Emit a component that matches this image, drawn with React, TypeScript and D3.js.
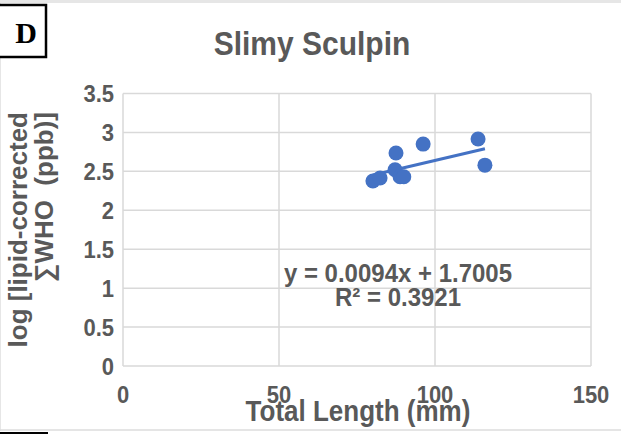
import React from "react";
import * as d3 from "d3";

const lengthMm = [80.1, 82.4, 87.2, 87.5, 88.8, 90.0, 96.2, 113.8, 116.0];
const logWho = [2.376, 2.415, 2.52, 2.736, 2.43, 2.43, 2.85, 2.915, 2.58];
const xTicks = [0, 50, 100, 150];
const yTicks = [0, 0.5, 1, 1.5, 2, 2.5, 3, 3.5];
const slope = 0.0094;
const intercept = 1.7005;
const rSquared = "0.3921";
const title = "Slimy Sculpin";
const xTitle = "Total Length (mm)";
const yTitleLines = ["log [lipid-corrected", "\u2211WHO  (ppb)]"];
const panelLabel = "D";

const W = 621;
const H = 434;
const FONT = "'Liberation Sans', Arial, sans-serif";
const GREY = "#595959";
const BLUE = "#4472C4";
const GRID = "#d9d9d9";
const SY = 1.1; // slight vertical stretch of the reference's lettering

export default function App() {
  const x = d3.scaleLinear().domain([0, 150]).range([123, 591]);
  const y = d3.scaleLinear().domain([0, 3.5]).range([366, 93.5]);
  const xMin = d3.min(lengthMm) as number;
  const xMax = d3.max(lengthMm) as number;
  const trend = d3
    .line<number>()
    .x((d) => x(d))
    .y((d) => y(slope * d + intercept));

  const txt = (tx: number, ty: number) => `translate(${tx},${ty}) scale(1,${SY})`;

  return (
    <svg
      width={W}
      height={H}
      style={{ position: "absolute", left: 0, top: 0, background: "#fff" }}
    >
      {/* outer frame lines */}
      <rect x={0} y={0} width={W} height={3} fill="#e6e6e6" />
      <line x1={0.5} y1={0} x2={0.5} y2={431} stroke="#e6e6e6" strokeWidth={1} />
      <line x1={0} y1={430} x2={W} y2={430} stroke="#dcdcdc" strokeWidth={1.5} />
      <line x1={0} y1={433} x2={48} y2={433} stroke="#000" strokeWidth={2} />

      {/* gridlines */}
      {yTicks.map((t) => (
        <line
          key={"gy" + t}
          x1={x(0)}
          x2={x(150)}
          y1={y(t)}
          y2={y(t)}
          stroke={GRID}
          strokeWidth={1.5}
        />
      ))}
      {xTicks.map((t) => (
        <line
          key={"gx" + t}
          x1={x(t)}
          x2={x(t)}
          y1={y(0)}
          y2={y(3.5)}
          stroke={GRID}
          strokeWidth={1.5}
        />
      ))}

      {/* tick labels */}
      {yTicks.map((t) => (
        <text
          key={"ty" + t}
          transform={txt(114, y(t) + 8.5)}
          textAnchor="end"
          fontFamily={FONT}
          fontWeight="bold"
          fontSize={22}
          fill={GREY}
        >
          {d3.format("~g")(t)}
        </text>
      ))}
      {xTicks.map((t) => (
        <text
          key={"tx" + t}
          transform={txt(x(t), 403)}
          textAnchor="middle"
          fontFamily={FONT}
          fontWeight="bold"
          fontSize={22}
          fill={GREY}
        >
          {t}
        </text>
      ))}

      {/* trendline */}
      <path d={trend([xMin, xMax]) || ""} stroke={BLUE} strokeWidth={3} fill="none" />

      {/* points */}
      {lengthMm.map((v, i) => (
        <circle key={"p" + i} cx={x(v)} cy={y(logWho[i])} r={7.5} fill={BLUE} />
      ))}

      {/* equation */}
      <text
        transform={txt(398, 282)}
        textAnchor="middle"
        fontFamily={FONT}
        fontWeight="bold"
        fontSize={24}
        fill={GREY}
      >
        {`y = ${slope}x + ${intercept}`}
      </text>
      <text
        transform={txt(398, 306)}
        textAnchor="middle"
        fontFamily={FONT}
        fontWeight="bold"
        fontSize={24}
        fill={GREY}
      >
        {`R\u00b2 = ${rSquared}`}
      </text>

      {/* title */}
      <text
        transform={txt(312, 55)}
        textAnchor="middle"
        fontFamily={FONT}
        fontWeight="bold"
        fontSize={30}
        fill={GREY}
      >
        {title}
      </text>

      {/* x title */}
      <text
        transform={txt(358, 421)}
        textAnchor="middle"
        fontFamily={FONT}
        fontWeight="bold"
        fontSize={26}
        fill={GREY}
      >
        {xTitle}
      </text>

      {/* y title */}
      {yTitleLines.map((l, i) => (
        <text
          key={"yt" + i}
          transform={`translate(${27 + i * 26},112) rotate(-90)`}
          textAnchor="end"
          fontFamily={FONT}
          fontWeight="bold"
          fontSize={26}
          fill={GREY}
          style={{ whiteSpace: "pre" }}
        >
          {l}
        </text>
      ))}

      {/* panel label */}
      <rect x={-2} y={5} width={48} height={52} fill="#fff" stroke="#000" strokeWidth={2.5} />
      <text
        x={26}
        y={43}
        textAnchor="middle"
        fontFamily="'Liberation Serif', 'Times New Roman', serif"
        fontWeight="bold"
        fontSize={30}
        fill="#000"
      >
        {panelLabel}
      </text>
    </svg>
  );
}
